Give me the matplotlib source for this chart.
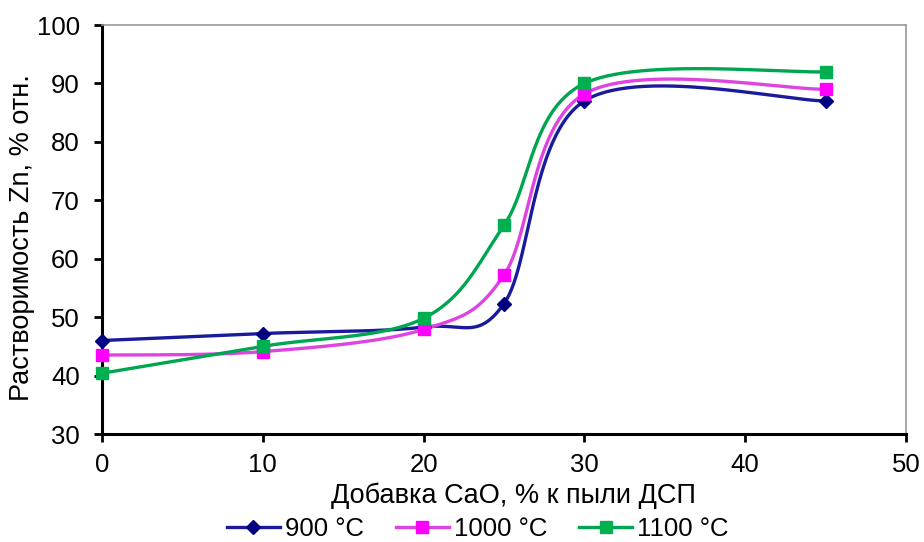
import numpy as np
import matplotlib as mpl

mpl.use('agg')

import matplotlib.pyplot as plt

plt.rcParams['font.family'] = ['Liberation Sans', 'DejaVu Sans']

cao = [0, 10, 20, 25, 30, 45]
zn_900 = [46.0, 47.2, 48.3, 52.3, 87.0, 87.0]
zn_1000 = [43.5, 44.1, 47.9, 57.2, 88.2, 89.0]
zn_1100 = [40.4, 45.0, 49.8, 65.7, 90.0, 92.0]


def smooth(xs, ys, n=60):
    # Excel-like smoothed line: Catmull-Rom bezier in screen-ish units
    sx, sy = 804 / 50.0, 410 / 70.0
    p = np.column_stack([np.array(xs) * sx, np.array(ys) * sy])
    pts = [p[0]] + list(p) + [p[-1]]
    out = []
    t = np.linspace(0, 1, n)[:, None]
    for i in range(1, len(pts) - 2):
        p0, p1, p2, p3 = pts[i - 1], pts[i], pts[i + 1], pts[i + 2]
        c1 = p1 + (p2 - p0) / 6.0
        c2 = p2 - (p3 - p1) / 6.0
        seg = ((1 - t) ** 3) * p1 + 3 * ((1 - t) ** 2) * t * c1 + 3 * (1 - t) * t ** 2 * c2 + t ** 3 * p2
        out.append(seg)
    c = np.vstack(out)
    return c[:, 0] / sx, c[:, 1] / sy


fig = plt.figure(figsize=(9.24, 5.42), dpi=100)
ax = fig.add_axes([102 / 924, 1 - 434 / 542, 804 / 924, 409 / 542])

series = [
    (zn_900, '900 °C', '#1a1a9c', '#000080', 'D', 7),
    (zn_1000, '1000 °C', '#dd44e0', '#ff00ff', 's', 9),
    (zn_1100, '1100 °C', '#00a550', '#00b050', 's', 9),
]
for ys, lab, lc, mc, mk, ms in series:
    cx, cy = smooth(cao, ys)
    ax.plot(cx, cy, color=lc, lw=2.4, zorder=2)
    ax.plot(cao, ys, ls='none', marker=mk, ms=ms, color=mc, zorder=3, clip_on=False)
    ax.plot([], [], color=lc, lw=2.4, marker=mk, ms=ms, mfc=mc, mec=mc, label=lab)

ax.set_xlim(0, 50)
ax.set_ylim(30, 100)
ax.set_xticks(np.arange(0, 51, 10))
ax.set_yticks(np.arange(30, 101, 10))
for s in ['top', 'right']:
    ax.spines[s].set_color('#999999')
    ax.spines[s].set_linewidth(1.2)
for s in ['left', 'bottom']:
    ax.spines[s].set_linewidth(2.2)
ax.tick_params(labelsize=18.5, width=2, length=6, direction='out')
ax.tick_params(axis='y', pad=10)
ax.tick_params(axis='x', pad=8)
ax.set_xlabel('Добавка CaO, % к пыли ДСП', fontsize=19.5)
ax.xaxis.set_label_coords(0.512, -0.118)
ax.set_ylabel('Растворимость Zn, % отн.', fontsize=19.5)
ax.yaxis.set_label_coords(-0.083, 0.48)

fig.legend(loc='lower center', ncol=3, frameon=False, fontsize=18.5,
           bbox_to_anchor=(0.517, -0.04), handlelength=2.05, columnspacing=1.25,
           handletextpad=0.2)

fig.savefig('out.png')
